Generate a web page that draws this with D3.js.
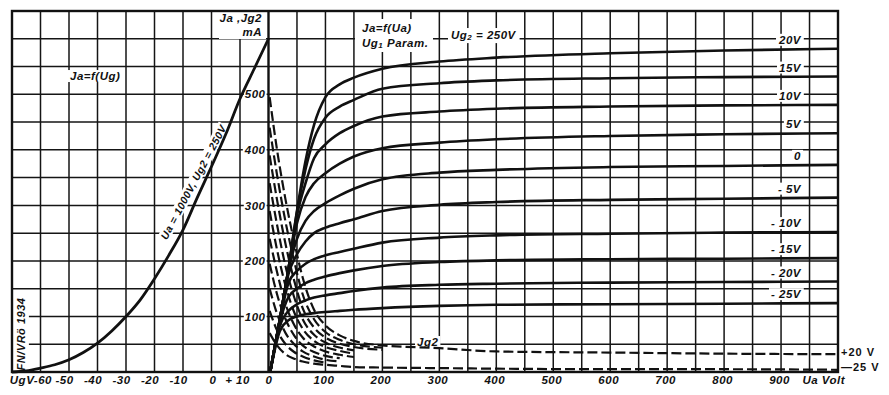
<!DOCTYPE html>
<html>
<head>
<meta charset="utf-8">
<script src="https://cdn.jsdelivr.net/npm/d3@7"></script>
<style>
  html, body { margin: 0; padding: 0; background: #fff; }
  svg { display: block; }
  .lbl, .lbl text {
    font-family: "Liberation Sans", Arial, sans-serif;
    font-weight: bold;
    font-style: italic;
    font-size: 11.5px;
    letter-spacing: 0.5px;
    fill: #111;
  }
  .plain {
    font-family: "Liberation Sans", Arial, sans-serif;
    font-weight: bold;
    font-size: 11px;
    letter-spacing: 1px;
    fill: #111;
  }
</style>
</head>
<body>
<svg id="chart"></svg>
<script>
// Ja = f(Ug) at Ua = 1000 V, Ug2 = 250 V
const ugSweep = [-70, -65, -60, -55, -50, -45, -40, -35, -30, -25, -20, -15, -10, -5, 0, 5, 10, 15, 20];
const jaSweep = [0, 2, 7, 13, 22, 35, 52, 74, 100, 130, 168, 210, 256, 314, 370, 428, 492, 546, 600];

// Ja = f(Ua), Ug1 as parameter (mA)
const uaJa = [3, 20, 35, 50, 65, 80, 100, 125, 150, 200, 300, 400, 600, 800, 1000];
const jaP20 = [0, 95, 185, 290, 380, 445, 495, 518, 530, 546, 559, 566, 574, 579, 582];
const jaP15 = [0, 95, 185, 288, 365, 420, 458, 478, 490, 510, 520, 525, 529, 531, 532];
const jaP10 = [0, 95, 185, 282, 340, 385, 410, 430, 443, 460, 469, 474, 478, 480, 481];
const jaP5 = [0, 95, 185, 268, 315, 340, 358, 375, 388, 403, 413, 419, 425, 428, 430];
const ja0 = [0, 95, 182, 240, 272, 290, 304, 318, 330, 347, 359, 364, 369, 371, 373];
const jaM5 = [0, 95, 176, 212, 235, 250, 260, 268, 275, 290, 301, 306, 310, 312, 314];
const jaM10 = [0, 93, 160, 182, 195, 203, 210, 216, 222, 233, 242, 246, 249, 251, 252];
const jaM15 = [0, 90, 135, 150, 160, 166, 172, 178, 183, 191, 198, 201, 203, 204, 205];
const jaM20 = [0, 84, 110, 122, 129, 134, 138, 142, 146, 152, 157, 159, 161, 162, 163];
const jaM25 = [0, 74, 93, 100, 104, 106, 108, 110, 112, 115, 119, 121, 122, 123, 124];
const ugLabels = ["20V", "15V", "10V", "5V", "0", "- 5V", "- 10V", "- 15V", "- 20V", "- 25V"];

// Jg2 = f(Ua) (dashed), same parameters
const uaJg = [2, 15, 30, 45, 60, 80, 100, 125, 150, 200, 300, 400, 600, 800, 1000];
const jgP20 = [495, 400, 310, 235, 170, 112, 84, 66, 56, 48, 43, 37, 35, 33, 32];
const jgP15 = [440, 355, 270, 200, 140, 95, 72, 58, 50, 44];
const jgP10 = [390, 310, 230, 165, 115, 80, 62, 51, 45, 40];
const jgP5 = [340, 265, 190, 135, 95, 67, 53, 44, 39];
const jg0 = [290, 220, 155, 108, 78, 56, 45, 38, 33];
const jgM5 = [240, 180, 122, 85, 62, 46, 37, 31, 27];
const jgM10 = [195, 140, 95, 66, 48, 36, 29, 25];
const jgM15 = [150, 105, 70, 50, 37, 28, 22, 19];
const jgM20 = [110, 75, 50, 36, 28, 21, 17];
const jgM25 = [70, 48, 32, 24, 19, 15, 13, 11, 9, 8, 7, 6, 5, 5, 4];

// tick labels
const uaTicks = [0, 100, 200, 300, 400, 500, 600, 700, 800, 900];
const ugTicks = [-60, -50, -40, -30, -20, -10, 0, 10];
const jaTicks = [100, 200, 300, 400, 500];

const w = 889;
const h = 395;
const svg = d3.select("#chart").attr("width", w).attr("height", h);

const xUg = d3.scaleLinear().domain([-70, 20]).range([12, 268.5]);
const xUa = d3.scaleLinear().domain([0, 1000]).range([268.5, 838]);
const y = d3.scaleLinear().domain([0, 650]).range([372, 11]);

//grid
const grid = svg.append("g").attr("stroke", "#151515").attr("stroke-width", 1.5);
grid.selectAll(".vug")
  .data(d3.range(-60, 20, 10))
  .join("line")
  .attr("class", "vug")
  .attr("x1", (d) => xUg(d)).attr("x2", (d) => xUg(d))
  .attr("y1", y(650)).attr("y2", y(0));
grid.selectAll(".vua")
  .data(d3.range(50, 1000, 50))
  .join("line")
  .attr("class", "vua")
  .attr("x1", (d) => xUa(d)).attr("x2", (d) => xUa(d))
  .attr("y1", y(650)).attr("y2", y(0));
grid.selectAll(".hg")
  .data(d3.range(50, 650, 50))
  .join("line")
  .attr("class", "hg")
  .attr("x1", xUg(-70)).attr("x2", xUa(1000))
  .attr("y1", (d) => y(d)).attr("y2", (d) => y(d));

// put a white box behind a text so it cuts the grid
const boxed = (g, padX = 2, padY = 0) => {
  const b = g.select("text").node().getBBox();
  g.insert("rect", "text")
    .attr("x", b.x - padX).attr("y", b.y - padY)
    .attr("width", b.width + 2 * padX).attr("height", b.height + 2 * padY)
    .attr("fill", "#fff");
  return g;
};
const label = (x, yy, txt, anchor = "start", cls = "lbl") => {
  const g = svg.append("g");
  g.append("text")
    .attr("class", cls)
    .attr("x", x).attr("y", yy)
    .attr("text-anchor", anchor)
    .attr("dominant-baseline", "middle")
    .text(txt);
  return boxed(g);
};

//axes
const axUa = svg.append("g")
  .attr("class", "lbl")
  .attr("transform", `translate(0, ${y(0)})`)
  .call(d3.axisBottom(xUa).tickValues(uaTicks).tickSize(0).tickPadding(4));
axUa.select(".domain").remove();
axUa.selectAll("text").attr("dx", (d) => (d === 0 ? 0 : -2));

const axUg = svg.append("g")
  .attr("class", "lbl")
  .attr("transform", `translate(0, ${y(0)})`)
  .call(
    d3.axisBottom(xUg).tickValues(ugTicks).tickSize(0).tickPadding(4)
      .tickFormat((d) => (d === -60 ? "UgV-60" : d > 0 ? "+ " + d : d))
  );
axUg.select(".domain").remove();
axUg.selectAll("text")
  .attr("text-anchor", (d) => (d === -60 ? "end" : "middle"))
  .attr("dx", (d) => (d === -60 ? 11 : d < 0 ? -5 : d > 0 ? -3 : 1));

const axJa = svg.append("g")
  .attr("class", "lbl")
  .attr("transform", `translate(${xUa(0)}, 0)`)
  .call(d3.axisLeft(y).tickValues(jaTicks).tickSize(0).tickPadding(3));
axJa.select(".domain").remove();
axJa.selectAll(".tick").each(function () {
  boxed(d3.select(this), 1, 0);
});

label(xUa(975), y(0) + 9, "Ua Volt", "middle");

// captions
const unitBox = svg.append("g");
unitBox.append("rect").attr("x", 219).attr("y", 12).attr("width", 47).attr("height", 27).attr("fill", "#fff");
unitBox.append("text").attr("class", "lbl").attr("x", 262).attr("y", 19)
  .attr("text-anchor", "end").attr("dominant-baseline", "middle").text("Ja ,Jg2");
unitBox.append("text").attr("class", "lbl").attr("x", 262).attr("y", 33)
  .attr("text-anchor", "end").attr("dominant-baseline", "middle").text("mA");

label(70, 77, "Ja=f(Ug)");

const cap = svg.append("g");
cap.append("rect").attr("x", 355).attr("y", 19).attr("width", 78).attr("height", 33).attr("fill", "#fff");
cap.append("text").attr("class", "lbl").attr("x", 362).attr("y", 29)
  .attr("dominant-baseline", "middle").text("Ja=f(Ua)");
const ug1 = cap.append("text").attr("class", "lbl").attr("x", 362).attr("y", 44)
  .attr("dominant-baseline", "middle");
ug1.append("tspan").text("Ug");
ug1.append("tspan").attr("font-size", "8px").attr("dy", 2).text("1");
ug1.append("tspan").attr("dy", -2).text(" Param.");

const ug2 = svg.append("g");
const ug2t = ug2.append("text").attr("class", "lbl").attr("x", 451).attr("y", 36)
  .attr("dominant-baseline", "middle");
ug2t.append("tspan").text("Ug");
ug2t.append("tspan").attr("font-size", "8px").attr("dy", 2).text("2");
ug2t.append("tspan").attr("dy", -2).text(" = 250V");
boxed(ug2, 3, 1);

label(417, 343, "Jg2");

// rotated caption along the Ja=f(Ug) curve
const rot = svg.append("g")
  .attr("transform", `translate(${xUg(-6)}, ${y(341)}) rotate(-62)`);
rot.append("text").attr("class", "lbl")
  .attr("text-anchor", "middle").attr("dominant-baseline", "middle")
  .style("font-size", "10.5px")
  .text("Ua = 1000V, Ug2 = 250V");
boxed(rot, 1, 0);

const fn = svg.append("g").attr("transform", `translate(22, 334) rotate(-90)`);
fn.append("text").attr("class", "lbl")
  .attr("text-anchor", "middle").attr("dominant-baseline", "middle")
  .style("font-size", "11px")
  .text("FN/VRö 1934");
boxed(fn, 2, 2);

// curves
const line = d3.line().curve(d3.curveMonotoneX);

const jaSeries = [jaP20, jaP15, jaP10, jaP5, ja0, jaM5, jaM10, jaM15, jaM20, jaM25];
const jgSeries = [jgP20, jgP15, jgP10, jgP5, jg0, jgM5, jgM10, jgM15, jgM20, jgM25];

// Ua = 0 axis line
svg.append("line")
  .attr("x1", xUa(0)).attr("x2", xUa(0)).attr("y1", y(650)).attr("y2", y(0))
  .attr("stroke", "#111").attr("stroke-width", 2.4);

svg.append("path")
  .attr("d", line(ugSweep.map((u, i) => [xUg(u), y(jaSweep[i])])))
  .attr("fill", "none").attr("stroke", "#111").attr("stroke-width", 2.8);

svg.selectAll(".ja")
  .data(jaSeries)
  .join("path")
  .attr("class", "ja")
  .attr("d", (s) => line(s.map((v, i) => [xUa(uaJa[i]), y(v)])))
  .attr("fill", "none").attr("stroke", "#111").attr("stroke-width", 2.6);

svg.selectAll(".jg")
  .data(jgSeries)
  .join("path")
  .attr("class", "jg")
  .attr("d", (s) => line(s.map((v, i) => [xUa(uaJg[i]), y(v)])))
  .attr("fill", "none").attr("stroke", "#111").attr("stroke-width", 2.2)
  .attr("stroke-dasharray", "10,4");

// Ug1 labels at the right end
jaSeries.forEach((s, i) => {
  label(xUa(935), y(s[s.length - 1]) - 8, ugLabels[i], "end");
});

//frame
svg.append("rect")
  .attr("x", xUg(-70)).attr("y", y(650))
  .attr("width", xUa(1000) - xUg(-70)).attr("height", y(0) - y(650))
  .attr("fill", "none").attr("stroke", "#111").attr("stroke-width", 2.4);

// Jg2 end labels outside the frame
svg.append("text").attr("class", "plain")
  .attr("x", xUa(1000) + 3).attr("y", y(jgP20[jgP20.length - 1]) - 1)
  .attr("dominant-baseline", "middle").text("+20 V");
svg.append("text").attr("class", "plain")
  .attr("x", xUa(1000) + 3).attr("y", y(jgM25[jgM25.length - 1]) - 2)
  .attr("dominant-baseline", "middle").text("—25 V");
</script>
</body>
</html>
